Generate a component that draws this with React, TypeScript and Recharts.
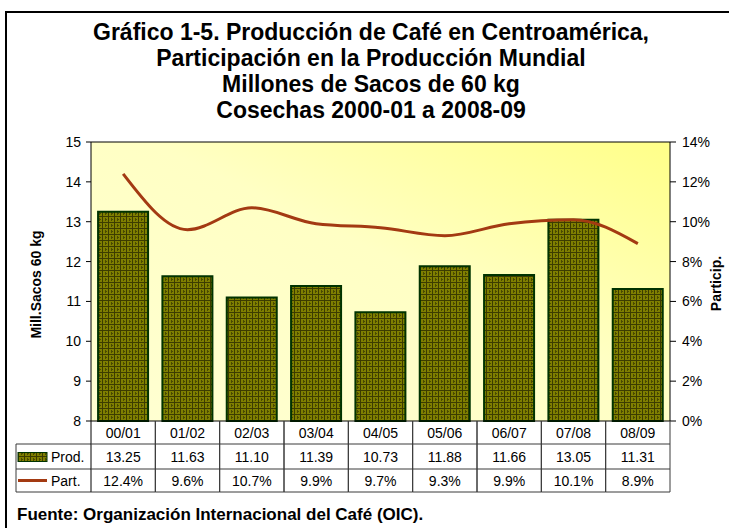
import React from 'react';
import { ComposedChart, Bar, Line, XAxis, YAxis, CartesianGrid, ReferenceLine } from 'recharts';

const categories = ['00/01', '01/02', '02/03', '03/04', '04/05', '05/06', '06/07', '07/08', '08/09'];
const prodValues = [13.25, 11.63, 11.1, 11.39, 10.73, 11.88, 11.66, 13.05, 11.31];
const partValues = [12.4, 9.6, 10.7, 9.9, 9.7, 9.3, 9.9, 10.1, 8.9];
const leftTicks = [8, 9, 10, 11, 12, 13, 14, 15];
const rightTicks = [0, 2, 4, 6, 8, 10, 12, 14];
const titleLines = [
  'Gráfico 1-5. Producción de Café en Centroamérica,',
  'Participación en la Producción Mundial',
  'Millones de Sacos de 60 kg',
  'Cosechas 2000-01 a 2008-09',
];
const sourceText = 'Fuente: Organización Internacional del Café (OIC).';

const data = categories.map((c, i) => ({ cat: c, prod: prodValues[i], part: partValues[i] }));

const W = 729;
const H = 528;
const LEFT_W = 91;
const RIGHT_W = 59;
const PLOT_W = W - LEFT_W - RIGHT_W;
const CELL_W = PLOT_W / categories.length;
const FONT = "Arial, 'Liberation Sans', sans-serif";
const LINE_COLOR = '#A33A12';
const GRID_COLOR = '#3a3a3a';

const TableTick = (props: any) => {
  const { x, y, payload } = props;
  const i = payload.index;
  const left = x - CELL_W / 2;
  const right = x + CELL_W / 2;
  const top = y;
  const r1 = top + 23;
  const r2 = top + 48;
  const r3 = top + 71;
  const tStyle = { fontFamily: FONT, fontSize: 14, fill: '#000' } as any;
  return (
    <g>
      {i === 0 && (
        <g>
          <line x1={16} x2={left} y1={r1} y2={r1} stroke={GRID_COLOR} strokeWidth={1} />
          <line x1={16} x2={left} y1={r2} y2={r2} stroke={GRID_COLOR} strokeWidth={1} />
          <line x1={16} x2={left} y1={r3} y2={r3} stroke={GRID_COLOR} strokeWidth={1} />
          <line x1={16} x2={16} y1={r1} y2={r3} stroke={GRID_COLOR} strokeWidth={1} />
          <rect x={18} y={(r1 + r2) / 2 - 4} width={29} height={9} fill="url(#checks)" stroke="#003300" strokeWidth={1} />
          <text x={51} y={(r1 + r2) / 2 + 5} style={tStyle}>Prod.</text>
          <line x1={18} x2={47} y1={(r2 + r3) / 2} y2={(r2 + r3) / 2} stroke={LINE_COLOR} strokeWidth={3} />
          <text x={51} y={(r2 + r3) / 2 + 5} style={tStyle}>Part.</text>
        </g>
      )}
      <line x1={left} x2={left} y1={top} y2={r3} stroke={i === 0 ? '#000' : GRID_COLOR} strokeWidth={1} />
      <line x1={right} x2={right} y1={top} y2={r3} stroke={GRID_COLOR} strokeWidth={1} />
      <line x1={left} x2={right} y1={r1} y2={r1} stroke={GRID_COLOR} strokeWidth={1} />
      <line x1={left} x2={right} y1={r2} y2={r2} stroke={GRID_COLOR} strokeWidth={1} />
      <line x1={left} x2={right} y1={r3} y2={r3} stroke={GRID_COLOR} strokeWidth={1} />
      <text x={x} y={top + 17} textAnchor="middle" style={tStyle}>{payload.value}</text>
      <text x={x} y={(r1 + r2) / 2 + 5} textAnchor="middle" style={tStyle}>{prodValues[i].toFixed(2)}</text>
      <text x={x} y={(r2 + r3) / 2 + 5} textAnchor="middle" style={tStyle}>{partValues[i].toFixed(1) + '%'}</text>
    </g>
  );
};

export default function App() {
  return (
    <div style={{ position: 'absolute', left: 0, top: 0, width: W, height: H, overflow: 'hidden', background: '#fff', fontFamily: FONT }}>
      <div style={{ position: 'absolute', left: 5, top: 11, width: 900, height: 900, border: '2px solid #000' }} />
      <div style={{ position: 'absolute', left: 5, top: 19, width: 732, textAlign: 'center', fontWeight: 'bold', fontSize: 23, lineHeight: '26px', color: '#000' }}>
        {titleLines.map((t) => (
          <div key={t}>{t}</div>
        ))}
      </div>
      <div style={{ position: 'absolute', left: 17, top: 505, fontWeight: 'bold', fontSize: 17, lineHeight: '20px', color: '#000', whiteSpace: 'nowrap' }}>
        {sourceText}
      </div>
      <div style={{ position: 'absolute', left: 0, top: 0 }}>
        <ComposedChart width={W} height={H} data={data} margin={{ top: 142, right: 0, bottom: 35, left: 0 }} barCategoryGap="11%">
          <defs>
            <linearGradient id="bg" x1="0" y1="1" x2="1" y2="0">
              <stop offset="0%" stopColor="#FFFFD2" />
              <stop offset="55%" stopColor="#FFFFC4" />
              <stop offset="100%" stopColor="#FFFF88" />
            </linearGradient>
            <pattern id="checks" width="6" height="6" patternUnits="userSpaceOnUse">
              <rect x="0" y="0" width="6" height="6" fill="#7F7F00" />
              <rect x="0" y="0" width="6" height="1" fill="#3C3C00" />
              <rect x="0" y="0" width="1" height="6" fill="#3C3C00" />
              <rect x="3" y="3" width="2" height="1" fill="#4A4A00" />
              <rect x="3" y="2" width="1" height="3" fill="#4A4A00" />
            </pattern>
          </defs>
          <CartesianGrid yAxisId="left" horizontal={false} vertical={false} fill="url(#bg)" stroke="none" />
          <XAxis
            dataKey="cat"
            xAxisId={0}
            height={72}
            axisLine={{ stroke: '#000', strokeWidth: 1 }}
            tickLine={false}
            tickSize={0}
            tickMargin={0}
            interval={0}
            tick={<TableTick />}
          />
          <YAxis
            yAxisId="left"
            orientation="left"
            width={LEFT_W}
            domain={[8, 15]}
            ticks={leftTicks}
            interval={0}
            axisLine={{ stroke: '#000', strokeWidth: 1 }}
            tickLine={{ stroke: '#000' }}
            tickSize={5}
            tickMargin={5}
            tick={{ fill: '#000', fontSize: 14, fontFamily: FONT }}
            label={{ value: 'Mill.Sacos 60 kg', angle: -90, position: 'center', dx: -9, dy: 3, style: { fontWeight: 'bold', fontSize: 14, fill: '#000', fontFamily: FONT } }}
          />
          <YAxis
            yAxisId="right"
            orientation="right"
            width={RIGHT_W}
            domain={[0, 14]}
            ticks={rightTicks}
            interval={0}
            axisLine={{ stroke: '#000', strokeWidth: 1 }}
            tickLine={{ stroke: '#000' }}
            tickSize={6}
            tickMargin={6}
            tickFormatter={(v: number) => `${v}%`}
            tick={{ fill: '#000', fontSize: 14, fontFamily: FONT }}
            label={{ value: 'Particip.', angle: -90, position: 'center', dx: 17, dy: 2, style: { fontWeight: 'bold', fontSize: 14, fill: '#000', fontFamily: FONT } }}
          />
          <ReferenceLine yAxisId="left" y={15} stroke="#000" strokeWidth={1} />
          <Bar yAxisId="left" dataKey="prod" fill="url(#checks)" stroke="#003300" strokeWidth={2} isAnimationActive={false} />
          <Line yAxisId="right" dataKey="part" type="monotone" stroke={LINE_COLOR} strokeWidth={3} dot={false} activeDot={false} isAnimationActive={false} />
        </ComposedChart>
      </div>
    </div>
  );
}
